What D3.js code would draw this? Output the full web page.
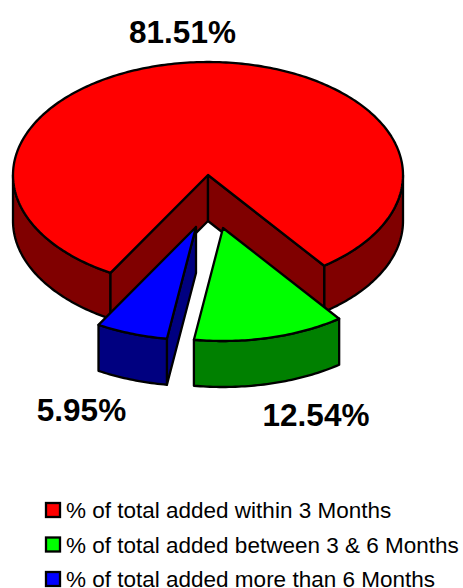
<!DOCTYPE html>
<html>
<head>
<meta charset="utf-8">
<script src="https://cdn.jsdelivr.net/npm/d3@7"></script>
<style>
  html, body { margin: 0; padding: 0; background: #fff; }
  svg { display: block; }
  text { font-family: "Liberation Sans", Arial, sans-serif; fill: #000; }
</style>
</head>
<body>
<svg></svg>
<script>
const CATEGORIES = ['% of total added within 3 Months', '% of total added between 3 & 6 Months', '% of total added more than 6 Months'];
const VALUES = [81.51, 12.54, 5.95];
const VALUE_LABELS = ['81.51%', '12.54%', '5.95%'];
const TOP_COLORS = ['#ff0000', '#00ff00', '#0000ff'];
const SIDE_COLORS = ['#800000', '#008000', '#000080'];

const WIDTH = 463;
const HEIGHT = 588;
const RX = 195;
const RY = 113;
const DEPTH = 46;
const STROKE = 2.3;

// pie centre of each slice, the two small ones are pulled out
const CENTERS = [[208, 175], [223, 228], [196, 227]];
const LABEL_POS = [[182.5, 43], [316, 426], [81.5, 421]];

const svg = d3.select('svg').attr('width', WIDTH).attr('height', HEIGHT);
const chart = svg.append('g');

const topColor = d3.scaleOrdinal().domain(CATEGORIES).range(TOP_COLORS);
const sideColor = d3.scaleOrdinal().domain(CATEGORIES).range(SIDE_COLORS);

// red wraps round the back, so it starts at the left edge of the gap
const START = 210 * Math.PI / 180;
const pie = d3.pie().sort(null).startAngle(START).endAngle(START + 2 * Math.PI);
const arcs = pie(VALUES);

// angle is clockwise from the top, same as d3.pie
function project(center, angle, drop = 0) {
    return [center[0] + RX * Math.sin(angle), center[1] - RY * Math.cos(angle) + drop];
}

function sample(a0, a1) {
    const n = Math.max(2, Math.ceil(Math.abs(a1 - a0) * 60));
    return d3.range(n + 1).map(i => a0 + (a1 - a0) * i / n);
}

const line = d3.line();

function drawShape(points, fill) {
    chart.append('path')
        .attr('d', line(points) + 'Z')
        .attr('fill', fill)
        .attr('stroke', '#000')
        .attr('stroke-width', STROKE)
        .attr('stroke-linejoin', 'round');
}

// outer wall between two angles
function drawWall(center, a0, a1, fill) {
    const edge = sample(a0, a1);
    const pts = edge.map(a => project(center, a))
        .concat(edge.slice().reverse().map(a => project(center, a, DEPTH)));
    drawShape(pts, fill);
}

// cut face running from the slice centre out to the rim
function drawCut(center, angle, fill) {
    drawShape([
        center,
        project(center, angle),
        project(center, angle, DEPTH),
        [center[0], center[1] + DEPTH]
    ], fill);
}

function drawTop(center, a0, a1, fill) {
    drawShape([center].concat(sample(a0, a1).map(a => project(center, a))), fill);
}

const RIGHT = Math.PI / 2;
const LEFT = 3 * Math.PI / 2;

// red slice
const red = arcs[0];
const redColor = sideColor(CATEGORIES[0]);
drawWall(CENTERS[0], red.startAngle, LEFT, redColor);
drawWall(CENTERS[0], 2 * Math.PI + RIGHT, red.endAngle, redColor);
drawCut(CENTERS[0], red.startAngle, redColor);
drawCut(CENTERS[0], red.endAngle, redColor);
drawTop(CENTERS[0], red.startAngle, red.endAngle, topColor(CATEGORIES[0]));

// green slice
const green = arcs[1];
const greenStart = green.startAngle - 2 * Math.PI;
const greenEnd = green.endAngle - 2 * Math.PI;
drawWall(CENTERS[1], greenStart, greenEnd, sideColor(CATEGORIES[1]));
drawTop(CENTERS[1], greenStart, greenEnd, topColor(CATEGORIES[1]));

// blue slice, its right cut face shows
const blue = arcs[2];
const blueStart = blue.startAngle - 2 * Math.PI;
const blueEnd = blue.endAngle - 2 * Math.PI;
drawCut(CENTERS[2], blueStart, sideColor(CATEGORIES[2]));
drawWall(CENTERS[2], blueStart, blueEnd, sideColor(CATEGORIES[2]));
drawTop(CENTERS[2], blueStart, blueEnd, topColor(CATEGORIES[2]));

// value labels
chart.selectAll('.value')
    .data(VALUE_LABELS)
    .enter().append('text')
    .classed('value', true)
    .attr('x', (d, i) => LABEL_POS[i][0])
    .attr('y', (d, i) => LABEL_POS[i][1])
    .attr('text-anchor', 'middle')
    .attr('font-weight', 'bold')
    .attr('font-size', 31.5)
    .text(d => d);

// legend
const legendY = d3.scalePoint().domain(CATEGORIES).range([518, 587]);

const legend = svg.selectAll('.legend')
    .data(CATEGORIES)
    .enter().append('g')
    .classed('legend', true);

legend.append('rect')
    .attr('x', 46)
    .attr('y', d => legendY(d) - 15)
    .attr('width', 14)
    .attr('height', 14)
    .attr('fill', d => topColor(d))
    .attr('stroke', '#000')
    .attr('stroke-width', STROKE);

legend.append('text')
    .attr('x', 66)
    .attr('y', d => legendY(d))
    .attr('font-size', 22.5)
    .text(d => d);
</script>
</body>
</html>
